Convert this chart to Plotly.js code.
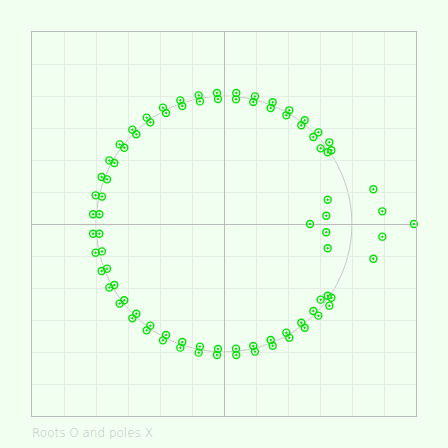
<!DOCTYPE html>
<html>
<head>
<meta charset="utf-8">
<script src="https://cdn.plot.ly/plotly-3.0.1.min.js"></script>
<style>html,body{margin:0;padding:0;background:#f0fff0;}</style>
</head>
<body>
<div id="chart" style="width:448px;height:448px;"></div>
<script>
const rootsRe = [
  -1.023, -0.974, -1.003, -0.953, -0.956, -0.914, -0.896, -0.857, -0.815, -0.779, -0.716,
  -0.685, -0.604, -0.576, -0.477, -0.453, -0.341, -0.326, -0.198, -0.188, -0.055, -0.047,
  0.096, 0.094, 0.242, 0.229, 0.380, 0.365, 0.510, 0.487, 0.630, 0.604, 0.737, 0.698,
  0.823, 0.755, 0.839, 0.810, 1.167, 0.810, 1.237, 0.799,
  0.672, 1.484,
  -1.023, -0.974, -1.003, -0.953, -0.956, -0.914, -0.896, -0.857, -0.815, -0.779, -0.716,
  -0.685, -0.604, -0.576, -0.477, -0.453, -0.341, -0.326, -0.198, -0.188, -0.055, -0.047,
  0.096, 0.094, 0.242, 0.229, 0.380, 0.365, 0.510, 0.487, 0.630, 0.604, 0.737, 0.698,
  0.823, 0.755, 0.839, 0.810, 1.167, 0.810, 1.237, 0.799
];
const rootsIm = [
  0.076, 0.076, 0.224, 0.214, 0.367, 0.349, 0.497, 0.477, 0.622, 0.596, 0.737,
  0.701, 0.831, 0.794, 0.909, 0.867, 0.966, 0.922, 1.005, 0.958, 1.023, 0.977,
  1.023, 0.974, 0.997, 0.953, 0.951, 0.906, 0.888, 0.849, 0.810, 0.771, 0.716, 0.680,
  0.638, 0.591, 0.576, 0.560, 0.271, 0.190, 0.099, 0.065,
  0.0, 0.0,
  -0.076, -0.076, -0.224, -0.214, -0.367, -0.349, -0.497, -0.477, -0.622, -0.596, -0.737,
  -0.701, -0.831, -0.794, -0.909, -0.867, -0.966, -0.922, -1.005, -0.958, -1.023, -0.977,
  -1.023, -0.974, -0.997, -0.953, -0.951, -0.906, -0.888, -0.849, -0.810, -0.771, -0.716, -0.680,
  -0.638, -0.591, -0.576, -0.560, -0.271, -0.190, -0.099, -0.065
];
const titleText = "Roots O and poles X";

const trace = {
  x: rootsRe, y: rootsIm, type: 'scatter', mode: 'markers',
  cliponaxis: false,
  marker: {symbol: 'circle-open-dot', size: 7, color: '#00e000', line: {width: 1.4, color: '#00e000'}},
  hoverinfo: 'x+y'
};

const axisCommon = {
  range: [-1.5, 1.5], dtick: 0.25, tick0: 0,
  showticklabels: false, ticks: '',
  showgrid: true, gridcolor: '#e3ede3', gridwidth: 1,
  zeroline: true, zerolinecolor: '#bbbbbb', zerolinewidth: 1,
  showline: true, mirror: true, linecolor: '#bbbbbb', linewidth: 1,
  fixedrange: true
};

const layout = {
  width: 448, height: 448,
  margin: {l: 32, r: 32, t: 32, b: 32},
  paper_bgcolor: '#f0fff0', plot_bgcolor: '#f0fff0',
  showlegend: false,
  xaxis: Object.assign({}, axisCommon),
  yaxis: Object.assign({}, axisCommon),
  shapes: [{type: 'circle', xref: 'x', yref: 'y', x0: -1, x1: 1, y0: -1, y1: 1,
            line: {color: '#c8c8c8', width: 1}, layer: 'below'}],
  annotations: [{text: titleText, xref: 'paper', yref: 'paper', x: 0, y: -0.02,
                 xanchor: 'left', yanchor: 'top', showarrow: false, xshift: -2,
                 font: {family: 'DejaVu Sans, sans-serif', size: 12, color: '#c0c0c0', weight: 300}}]
};

Plotly.newPlot('chart', [trace], layout, {displayModeBar: false, staticPlot: true});
</script>
</body>
</html>
